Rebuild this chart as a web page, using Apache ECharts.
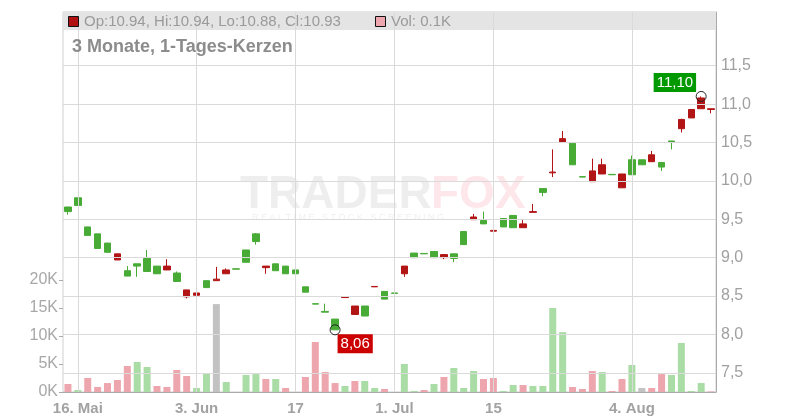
<!DOCTYPE html>
<html><head><meta charset="utf-8">
<script src="https://cdn.jsdelivr.net/npm/echarts@6/dist/echarts.min.js"></script>
<style>html,body{margin:0;padding:0;background:#fff}#c{width:800px;height:420px}</style>
</head><body><div id="c"></div>
<script>
const dates = [
 '2025-05-15','2025-05-16','2025-05-19','2025-05-20','2025-05-21','2025-05-22','2025-05-23','2025-05-26','2025-05-27','2025-05-28','2025-05-29','2025-05-30',
 '2025-06-02','2025-06-03','2025-06-04','2025-06-05','2025-06-06','2025-06-09','2025-06-10','2025-06-11','2025-06-12','2025-06-13',
 '2025-06-16','2025-06-17','2025-06-18','2025-06-19','2025-06-20','2025-06-23','2025-06-24','2025-06-25','2025-06-26','2025-06-27','2025-06-30',
 '2025-07-01','2025-07-02','2025-07-03','2025-07-04','2025-07-07','2025-07-08','2025-07-09','2025-07-10','2025-07-11',
 '2025-07-14','2025-07-15','2025-07-16','2025-07-17','2025-07-18','2025-07-21','2025-07-22','2025-07-23','2025-07-24','2025-07-25',
 '2025-07-28','2025-07-29','2025-07-30','2025-07-31','2025-08-01','2025-08-04','2025-08-05','2025-08-06','2025-08-07','2025-08-08',
 '2025-08-11','2025-08-12','2025-08-13','2025-08-14'];
const openP  = [9.60,9.68,9.29,9.12,9.07,9.05,8.76,8.89,8.82,8.79,8.89,8.69,8.58,8.54,8.61,8.72,8.84,8.85,8.94,9.21,8.89,8.83,8.79,8.79,8.55,8.395,8.29,8.06,8.49,8.37,8.24,8.625,8.46,8.535,8.89,9.00,9.05,9.00,9.04,8.99,9.17,9.53,9.44,9.355,9.40,9.39,9.44,9.60,9.85,10.115,10.55,10.21,10.05,10.13,10.21,10.08,10.09,10.08,10.21,10.34,10.18,10.50,10.80,10.93,11.08,10.94];
const closeP = [9.66,9.78,9.40,9.31,9.19,8.97,8.83,8.92,8.99,8.89,8.84,8.80,8.49,8.51,8.70,8.70,8.79,8.855,9.10,9.31,8.87,8.92,8.89,8.84,8.62,8.40,8.30,8.20,8.48,8.26,8.37,8.62,8.56,8.54,8.79,9.06,9.055,9.08,9.00,9.05,9.34,9.495,9.485,9.345,9.51,9.55,9.39,9.59,9.90,10.105,10.50,10.49,10.055,9.99,10.09,10.085,9.91,10.275,10.275,10.25,10.24,10.52,10.68,10.82,10.94,10.93];
const lowP   = [9.56,9.68,9.29,9.12,9.07,8.97,8.76,8.75,8.82,8.79,8.84,8.69,8.47,8.51,8.61,8.70,8.79,8.85,8.94,9.17,8.79,8.83,8.79,8.79,8.55,8.395,8.29,8.06,8.48,8.26,8.24,8.62,8.46,8.535,8.75,9.00,9.05,9.00,8.98,8.94,9.17,9.495,9.44,9.285,9.40,9.39,9.39,9.59,9.80,10.05,10.50,10.21,10.05,9.99,10.09,10.08,9.91,10.08,10.21,10.25,10.13,10.41,10.63,10.82,10.94,10.88];
const highP  = [9.66,9.78,9.40,9.31,9.19,9.05,8.89,8.92,9.10,8.89,8.98,8.82,8.58,8.54,8.70,8.88,8.86,8.855,9.10,9.32,8.89,8.92,8.89,8.84,8.62,8.40,8.40,8.20,8.50,8.37,8.37,8.625,8.56,8.54,8.89,9.06,9.055,9.08,9.04,9.05,9.34,9.57,9.60,9.49,9.51,9.55,9.49,9.70,9.90,10.41,10.65,10.49,10.055,10.29,10.29,10.085,10.09,10.33,10.275,10.39,10.24,10.52,10.81,10.93,11.10,10.94];
const volumeK = [1.43,0.36,2.5,0.9,1.6,2.14,4.64,5.36,4.46,1.07,0.9,3.93,2.86,0.71,3.39,15.7,1.79,0,3.04,3.2,2.32,2.32,0.71,0,2.68,8.93,3.57,1.6,1.07,1.96,1.96,0.71,0.54,0,5.0,0.18,0.36,1.43,2.68,4.29,0.71,3.75,2.32,2.5,0.18,1.25,1.25,1.07,1.07,15.0,10.7,0.9,0.54,3.75,3.57,0.18,2.32,4.82,0.71,0.71,3.2,3.04,8.75,0.18,1.6,0.1];
const prevClose = 9.70;
const priceTicks = [7.5,8.0,8.5,9.0,9.5,10.0,10.5,11.0,11.5];
const volumeTicksK = [0,5,10,15,20];
const xTickDates  = ['2025-05-16','2025-06-03','2025-06-17','2025-07-01','2025-07-15','2025-08-04'];
const xTickLabels = ['16. Mai','3. Jun','17','1. Jul','15','4. Aug'];
const titleText = '3 Monate, 1-Tages-Kerzen';

const FONT = '"Liberation Sans", Arial, sans-serif';
const UP = '#47ab36', DOWN = '#b21515';
const VUP = '#aadca6', VDOWN = '#eea6ae', VFLAT = '#c2c2c2';
const fmt = (v, d) => v.toFixed(d).replace('.', ',');

const n = dates.length;
const candleData = dates.map((d, i) => [openP[i], closeP[i], lowP[i], highP[i]]);
const volData = dates.map((d, i) => {
  const pc = i === 0 ? prevClose : closeP[i - 1];
  const c = closeP[i] > pc ? VUP : (closeP[i] < pc ? VDOWN : VFLAT);
  return { value: volumeK[i], itemStyle: { color: c } };
});
let minIdx = 0, maxIdx = 0;
for (let i = 1; i < n; i++) {
  if (lowP[i] < lowP[minIdx]) minIdx = i;
  if (highP[i] > highP[maxIdx]) maxIdx = i;
}
const last = n - 1;
const headerText = 'Op:' + openP[last].toFixed(2) + ', Hi:' + highP[last].toFixed(2) +
  ', Lo:' + lowP[last].toFixed(2) + ', Cl:' + closeP[last].toFixed(2);
const volText = 'Vol: ' + volumeK[last].toFixed(1) + 'K';

const gridLines = priceTicks.map(v => ({ yAxis: v })).concat(xTickDates.map(d => ({ xAxis: d })));

const chart = echarts.init(document.getElementById('c'), null, { renderer: 'canvas' });
chart.setOption({
  animation: false,
  textStyle: { fontFamily: FONT },
  grid: [
    { left: 63, right: 84, top: 12, bottom: 28, show: true, borderColor: '#cfcfcf', borderWidth: 1, backgroundColor: 'transparent' },
    { left: 63, right: 84, top: 280, bottom: 28 }
  ],
  xAxis: [
    { type: 'category', gridIndex: 0, data: dates, boundaryGap: true,
      axisLine: { lineStyle: { color: '#aaaaaa' } }, axisTick: { show: false },
      splitLine: { show: false },
      axisLabel: { interval: (i, v) => xTickDates.includes(v),
        formatter: v => xTickLabels[xTickDates.indexOf(v)] || '',
        fontSize: 15, fontWeight: 'bold', color: '#a2a2a2', margin: 9, fontFamily: FONT } },
    { type: 'category', gridIndex: 1, data: dates, boundaryGap: true, show: false }
  ],
  yAxis: [
    { type: 'value', gridIndex: 0, position: 'right', min: 7.25, max: 12.2, scale: true,
      axisLine: { show: true, lineStyle: { color: '#aaaaaa' } },
      axisTick: { show: true, inside: true, length: 4, customValues: priceTicks, lineStyle: { color: '#aaaaaa' } },
      axisLabel: { customValues: priceTicks, formatter: v => fmt(v, 1), fontSize: 16, color: '#a0a0a0', margin: 5, fontFamily: FONT },
      splitLine: { show: false } },
    { type: 'value', gridIndex: 1, position: 'left', min: 0, max: 20, interval: 5,
      axisLine: { show: false },
      axisTick: { show: true, length: 4, lineStyle: { color: '#aaaaaa' } },
      axisLabel: { formatter: v => v + 'K', fontSize: 16, color: '#a8a8a8', margin: 5, fontFamily: FONT },
      splitLine: { show: false } }
  ],
  graphic: [
    { type: 'rect', z: 1, shape: { x: 63, y: 12, width: 653, height: 18 }, style: { fill: '#e4e4e4' } },
    { type: 'text', z: 1, x: 240, y: 172, style: { text: 'TRADER', font: 'bold 46px ' + FONT, fill: 'rgba(0,0,0,0.065)' } },
    { type: 'text', z: 1, x: 431, y: 172, style: { text: 'FOX', font: 'bold 46px ' + FONT, fill: 'rgba(240,60,80,0.12)' } },
    { type: 'text', z: 1, x: 252, y: 213, style: { text: 'R E A L T I M E   S T O C K   S C R E E N I N G', font: '9px ' + FONT, fill: 'rgba(0,0,0,0.07)' } },
    { type: 'rect', z: 20, shape: { x: 68.5, y: 16.5, width: 10, height: 10 }, style: { fill: '#b01010', stroke: '#111', lineWidth: 1 } },
    { type: 'text', z: 20, x: 84, y: 14, style: { text: headerText, font: '15px ' + FONT, fill: '#9a9a9a' } },
    { type: 'rect', z: 20, shape: { x: 375.5, y: 16.5, width: 10, height: 10 }, style: { fill: '#f0a6ae', stroke: '#111', lineWidth: 1 } },
    { type: 'text', z: 20, x: 391, y: 14, style: { text: volText, font: '15px ' + FONT, fill: '#9a9a9a' } },
    { type: 'text', z: 20, x: 72, y: 38, style: { text: titleText, font: 'bold 18px ' + FONT, fill: '#8c8c8c' } }
  ],
  series: [
    { type: 'candlestick', xAxisIndex: 0, yAxisIndex: 0, data: candleData, barWidth: 7,
      itemStyle: { color: UP, color0: DOWN, borderColor: UP, borderColor0: DOWN, borderWidth: 1 },
      markLine: { silent: true, symbol: ['none', 'none'], label: { show: false }, animation: false,
        lineStyle: { color: '#dadada', width: 1, type: 'solid' }, emphasis: { disabled: true }, data: gridLines } },
    { type: 'bar', xAxisIndex: 1, yAxisIndex: 1, data: volData, barWidth: 7 },
    { type: 'scatter', xAxisIndex: 0, yAxisIndex: 0, symbol: 'circle', symbolSize: 10, z: 5,
      itemStyle: { color: 'rgba(0,0,0,0)', borderColor: '#222', borderWidth: 1, opacity: 1 },
      data: [
        { value: [dates[minIdx], lowP[minIdx]],
          label: { show: true, formatter: fmt(lowP[minIdx], 2), position: [8, 10], align: 'left', verticalAlign: 'top',
            backgroundColor: '#cc0000', color: '#fff', fontSize: 15, lineHeight: 15, padding: [2, 3, 2, 3], fontFamily: FONT } },
        { value: [dates[maxIdx], highP[maxIdx]],
          label: { show: true, formatter: fmt(highP[maxIdx], 2), position: [-42, -18], align: 'left', verticalAlign: 'top',
            backgroundColor: '#009900', color: '#fff', fontSize: 15, lineHeight: 15, padding: [2, 3, 2, 3], fontFamily: FONT } }
      ] }
  ]
});
</script></body></html>
